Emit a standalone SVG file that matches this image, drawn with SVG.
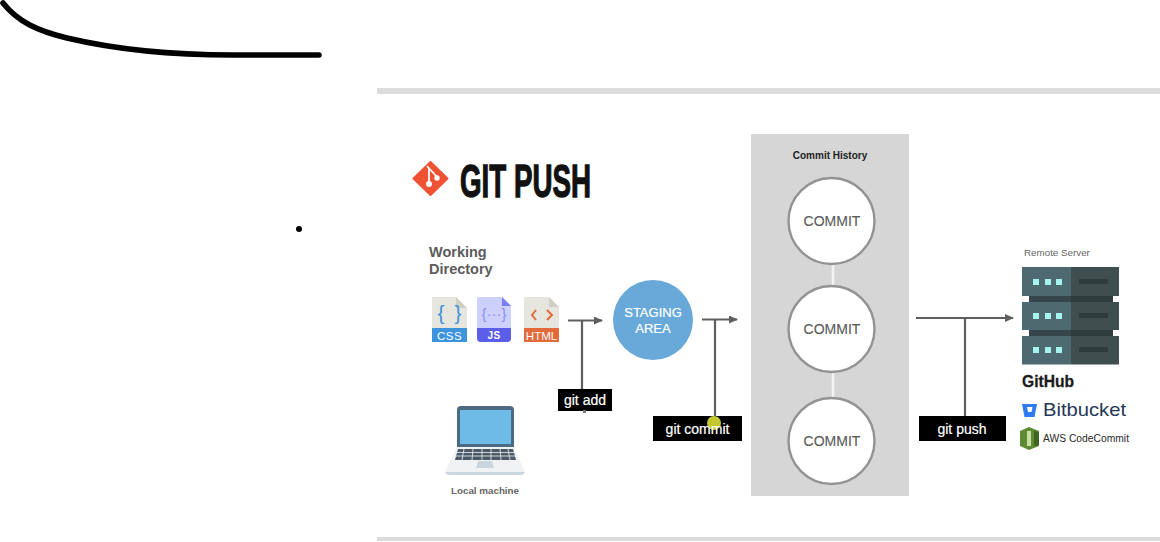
<svg xmlns="http://www.w3.org/2000/svg" width="1160" height="542" viewBox="0 0 1160 542">
<style>
text{font-family:"Liberation Sans",Arial,sans-serif}
.wire{fill:none;stroke:#5f5f5f;stroke-width:2.2}
.tag{fill:#000}
.tagt{fill:#fff;font-size:14px;font-weight:400;text-anchor:middle;stroke:#fff;stroke-width:.2}
.c{fill:#fff;stroke:#939393;stroke-width:2.4}
.ct{fill:#5c5c5c;font-size:14px;text-anchor:middle;stroke:#5c5c5c;stroke-width:.15}
.link{stroke:#f4f4f4;stroke-width:2.6}
.page{fill:#e6e6df}
.fold{fill:#cfcfc6}
.ft{fill:#fff;font-size:11.5px;text-anchor:middle;letter-spacing:.5px}
.srv1{fill:#4e6a70}.srv2{fill:#3f4e4e}.dark{fill:#2e3c3c}.led{fill:#a4f3ee}
</style>
<rect width="1160" height="542" fill="#fff"/>
<g id="scribble">
<path d="M3 3C18 22 38 31 67 38C105 47 160 55 233 55L319 55" fill="none" stroke="#000" stroke-width="5.500" stroke-linecap="round"/>
<circle cx="299" cy="229" r="3" fill="#000"/>
</g>
<g id="slide">
<rect x="377" y="88" width="783" height="6" fill="#dcdcdc"/>
<rect x="377" y="537" width="783" height="4" fill="#dcdcdc"/>
</g>
<g id="title">
<path d="M430.500 162L447.500 178.500L430.500 195L413.500 178.500Z" fill="#ee5233" stroke="#ee5233" stroke-width="2" stroke-linejoin="round"/>
<path d="M427 166L437 177M429 168V183" stroke="#fff" stroke-width="1.800" fill="none"/>
<circle cx="429" cy="184" r="3" fill="#fff"/><circle cx="437" cy="178" r="2.700" fill="#fff"/>
<text x="460" y="197" font-size="47" font-weight="700" fill="#111" stroke="#111" stroke-width="1.300" textLength="131" lengthAdjust="spacingAndGlyphs">GIT PUSH</text>
</g>
<g id="working-directory">
<text x="429" y="257" font-size="14.500" font-weight="700" fill="#5c5c5c">Working</text>
<text x="429" y="274" font-size="14.500" font-weight="700" fill="#5c5c5c">Directory</text>
</g>
<g id="css-file">
<path class="page" d="M432 297H456L467 308V342H432Z"/><path class="fold" d="M456 297L467 308H456Z"/>
<rect x="432" y="328" width="35" height="14" fill="#3e94dc"/>
<text x="449.500" y="339.500" class="ft">CSS</text>
<text x="449.500" y="320" font-size="21" fill="#3e94dc" text-anchor="middle" textLength="24">{ }</text>
</g>
<g id="js-file">
<path d="M479 297H502L511 306V338Q511 342 507 342H481Q477 342 477 338V299Q477 297 479 297Z" fill="#cdd0fb"/>
<path d="M502 297L511 306H502Z" fill="#7a7ef2"/>
<path d="M477 328H511V338Q511 342 507 342H481Q477 342 477 338Z" fill="#5a5ee8"/>
<text x="494" y="339" class="ft" font-weight="700" style="font-size:10px">JS</text>
<text x="494" y="319" font-size="15" fill="#8a8ff0" text-anchor="middle">{···}</text>
</g>
<g id="html-file">
<path class="page" d="M524 297H549L559 307V342H524Z"/><path class="fold" d="M549 297L559 307H549Z"/>
<rect x="524" y="328" width="35" height="14" fill="#e2693a"/>
<text x="541.500" y="339.500" class="ft" style="letter-spacing:0">HTML</text>
<path d="M536 310L532 315L536 320M547 310L552 315L547 320" fill="none" stroke="#e2693a" stroke-width="2"/>
</g>
<g id="staging-area">
<circle cx="653" cy="320" r="40" fill="#68a9da"/>
<text x="653" y="317" font-size="13" fill="#fff" stroke="#fff" stroke-width=".2" text-anchor="middle">STAGING</text>
<text x="653" y="333" font-size="13" fill="#fff" stroke="#fff" stroke-width=".2" text-anchor="middle">AREA</text>
</g>
<g id="commit-history">
<rect x="751" y="134" width="158" height="362" fill="#d6d6d6"/>
<text x="830" y="159" font-size="10" font-weight="700" fill="#222" text-anchor="middle">Commit History</text>
</g>
<g id="connectors">
<defs><marker id="ah" markerWidth="10" markerHeight="10" refX="8" refY="4" orient="auto" markerUnits="userSpaceOnUse"><path d="M0 0L9 4L0 8Z" fill="#5f5f5f"/></marker></defs>
<path class="wire" d="M568 320.500H602" marker-end="url(#ah)"/>
<path class="wire" d="M582 320.500V389"/>
<path class="wire" d="M702 319.500H737" marker-end="url(#ah)"/>
<path class="wire" d="M715 319.500V418"/>
<path class="wire" d="M916 318H1013" marker-end="url(#ah)"/>
<path class="wire" d="M965 318V417"/>
<path class="link" d="M833 265V286M833 372V398"/>
</g>
<g id="commit-1"><circle class="c" cx="831.500" cy="221" r="43"/><text x="832" y="226" class="ct">COMMIT</text></g>
<g id="commit-2"><circle class="c" cx="831.500" cy="329" r="43"/><text x="832" y="334" class="ct">COMMIT</text></g>
<g id="commit-3"><circle class="c" cx="831.500" cy="441" r="43"/><text x="832" y="446" class="ct">COMMIT</text></g>
<g id="git-add"><rect class="tag" x="558" y="389" width="54" height="22"/><text x="585" y="405" class="tagt">git add</text><rect x="583" y="410" width="3" height="3" fill="#777"/></g>
<g id="git-commit"><rect class="tag" x="653" y="416" width="89" height="25"/><circle cx="714" cy="423" r="7" fill="#c4c72e"/><text x="697.500" y="434" class="tagt">git commit</text></g>
<g id="git-push"><rect class="tag" x="919" y="416" width="87" height="25"/><text x="962" y="434" class="tagt">git push</text></g>
<g id="laptop">
<path d="M457 410Q457 406 461 406H510Q514 406 514 410V447H457Z" fill="#4c6b82"/>
<rect x="460" y="410" width="51" height="34" fill="#6fbbe8"/>
<path d="M457 447H514L525 472H445Z" fill="#f1f2f4"/>
<path d="M445 472H525Q524 475 520 475H450Q446 475 445 472Z" fill="#ccd6e0"/>
<path d="M458 449H513L516 460H455Z" fill="#4a5a68"/>
<path d="M455 452.500H516M455 456H516M464 449L462 460M473 449L472 460M482 449V460M491 449V460M500 449L501 460M508 449L510 460" stroke="#f1f2f4" stroke-width=".8" fill="none"/>
<path d="M478 461H492L494 468H476Z" fill="#ccd6e0"/>
<text x="485" y="494" font-size="9.800" font-weight="700" fill="#666" text-anchor="middle">Local machine</text>
</g>
<g id="remote-server">
<text x="1024" y="256" font-size="9.800" fill="#666">Remote Server</text>
<rect x="1029" y="295" width="42" height="8" fill="#34464a"/><rect x="1071" y="295" width="42" height="8" class="dark"/>
<rect x="1029" y="329" width="42" height="8" fill="#34464a"/><rect x="1071" y="329" width="42" height="8" class="dark"/>
<rect x="1022" y="267" width="49" height="29" class="srv1"/><rect x="1071" y="267" width="48" height="29" class="srv2"/>
<rect x="1022" y="302" width="49" height="28" class="srv1"/><rect x="1071" y="302" width="48" height="28" class="srv2"/>
<rect x="1022" y="336" width="49" height="28.500" class="srv1"/><rect x="1071" y="336" width="48" height="28.500" class="srv2"/>
<path class="led" d="M1033 279h6v6h-6zM1045 279h6v6h-6zM1056 279h6v6h-6zM1033 313h6v6h-6zM1045 313h6v6h-6zM1056 313h6v6h-6zM1033 347h6v6h-6zM1045 347h6v6h-6zM1056 347h6v6h-6z"/>
<rect x="1079" y="279" width="29" height="5" class="dark"/><rect x="1079" y="313" width="29" height="5" class="dark"/><rect x="1079" y="347" width="29" height="5" class="dark"/>
</g>
<g id="github"><text x="1022" y="387" font-size="16.500" font-weight="700" fill="#1b1b1b" stroke="#1b1b1b" stroke-width=".3" textLength="52" lengthAdjust="spacingAndGlyphs">GitHub</text></g>
<g id="bitbucket">
<path d="M1022 404H1037L1034.500 417H1024.500Z" fill="#2f7bf0"/><path d="M1027 407H1032.500L1031.500 412H1028Z" fill="#fff"/>
<text x="1043" y="416" font-size="18.500" fill="#253858" textLength="83" lengthAdjust="spacingAndGlyphs">Bitbucket</text>
</g>
<g id="aws-codecommit">
<path d="M1029 427L1039 431V446L1029 450L1020 446V431Z" fill="#5d8a32"/>
<path d="M1027 431H1031V446H1027Z" fill="#c6dfa0"/><path d="M1034 431L1039 432V445L1034 446Z" fill="#3e6420"/>
<text x="1043" y="441.500" font-size="10.800" fill="#2a2a2a" textLength="86" lengthAdjust="spacingAndGlyphs">AWS CodeCommit</text>
</g>
</svg>
